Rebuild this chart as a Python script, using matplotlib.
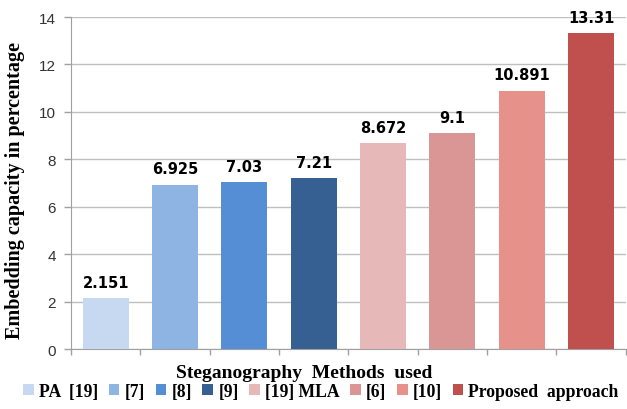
import matplotlib.pyplot as plt
import numpy as np

# data
methods = ['PA  [19]', '[7]', '[8]', '[9]', '[19] MLA', '[6]', '[10]', 'Proposed  approach']
capacity = [2.151, 6.925, 7.03, 7.21, 8.672, 9.1, 10.891, 13.31]
labels = ['2.151', '6.925', '7.03', '7.21', '8.672', '9.1', '10.891', '13.31']
colors = ['#C6D9F1', '#8DB4E2', '#558ED5', '#376092',
          '#E6B9B8', '#D99694', '#E6928A', '#C0504D']

fig = plt.figure(figsize=(6.27, 4.10), dpi=100)
ax = fig.add_axes([0.1132, 0.1463, 0.8848, 0.8097])

x = np.arange(len(methods))
bars = ax.bar(x, capacity, width=0.66, color=colors, zorder=3, label=methods)

for i in range(len(x)):
    ax.annotate(labels[i], (x[i], capacity[i]), xytext=(0, 6), textcoords='offset points',
                ha='center', va='bottom', fontsize=10.5, fontweight='bold',
                family='DejaVu Sans', color='black')

ax.set_xlim(-0.5, len(methods) - 0.5)
ax.set_ylim(0, 14)
ax.set_yticks(np.arange(0, 15, 2))
ax.yaxis.grid(True, color='#BFBFBF', linewidth=1, zorder=0)
ax.set_xticks(np.arange(-0.5, len(methods), 1))
ax.set_xticklabels([])
ax.tick_params(axis='x', length=4, color='#A0A0A0', width=1)
ax.tick_params(axis='y', length=5, color='#A0A0A0', width=1, labelsize=11, labelcolor='#333333', pad=6)
for lbl in ax.get_yticklabels():
    lbl.set_family('Liberation Sans')
for s in ['top', 'right']:
    ax.spines[s].set_visible(False)
for s in ['left', 'bottom']:
    ax.spines[s].set_color('#A0A0A0')

ax.set_xlabel('Steganography  Methods  used', family='Liberation Serif', fontweight='bold',
              fontsize=14)
ax.xaxis.set_label_coords(0.42, -0.045)
ax.set_ylabel('Embedding capacity in percentage', family='Liberation Serif', fontweight='bold',
              fontsize=14.5)
ax.yaxis.set_label_coords(-0.082, 0.48)

fig.legend(bars, methods, loc='center', bbox_to_anchor=(0.512, 0.043), ncol=8, frameon=False,
           handlelength=0.6, handleheight=0.6, handletextpad=0.3, columnspacing=0.6,
           prop={'family': 'Liberation Serif', 'weight': 'bold', 'size': 12.7})

fig.savefig('out.png', dpi=100)
